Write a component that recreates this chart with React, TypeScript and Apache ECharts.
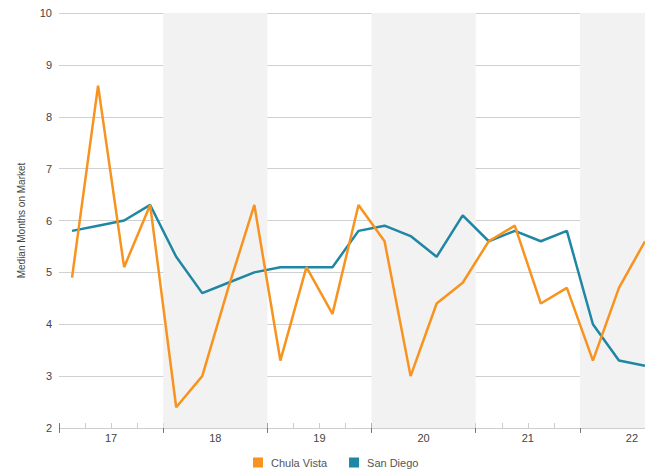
import React, { useEffect, useRef } from "react";
import * as echarts from "echarts";

const quarters: number[] = [
  2017.125, 2017.375, 2017.625, 2017.875,
  2018.125, 2018.375, 2018.625, 2018.875,
  2019.125, 2019.375, 2019.625, 2019.875,
  2020.125, 2020.375, 2020.625, 2020.875,
  2021.125, 2021.375, 2021.625, 2021.875,
  2022.125, 2022.375, 2022.625,
];
const chulaVista: number[] = [4.9, 8.6, 5.1, 6.3, 2.4, 3.0, 4.7, 6.3, 3.3, 5.1, 4.2, 6.3, 5.6, 3.0, 4.4, 4.8, 5.6, 5.9, 4.4, 4.7, 3.3, 4.7, 5.6];
const sanDiego: number[] = [5.8, 5.9, 6.0, 6.3, 5.3, 4.6, 4.8, 5.0, 5.1, 5.1, 5.1, 5.8, 5.9, 5.7, 5.3, 6.1, 5.6, 5.8, 5.6, 5.8, 4.0, 3.3, 3.2];
const shadedYears: number[][] = [[2018, 2019], [2020, 2021], [2022, 2022.625]];
const seriesNames = ["Chula Vista", "San Diego"];
const yAxisName = "Median Months on Market";

const X_MIN = 2017;
const X_MAX = 2022.625;
const FONT = "Liberation Sans, Arial, sans-serif";
const LEGEND_ICON = "path://M0 0H10V10H0Z M12.99 0H13V0.01H12.99Z";

export default function App() {
  const ref = useRef<HTMLDivElement>(null);
  useEffect(() => {
    if (!ref.current) return;
    const chart = echarts.init(ref.current, undefined, { renderer: "svg" });
    const baseX = {
      type: "value" as const,
      min: X_MIN,
      max: X_MAX,
      position: "bottom" as const,
      splitLine: { show: false },
    };
    chart.setOption({
      animation: false,
      textStyle: { fontFamily: FONT },
      grid: { left: 59, right: 0, top: 13, bottom: 46, containLabel: false, outerBoundsMode: "none" },
      legend: {
        bottom: 1,
        left: 248,
        itemWidth: 13,
        itemHeight: 10,
        itemGap: 22,
        icon: LEGEND_ICON,
        textStyle: { color: "#555", fontSize: 11, fontFamily: FONT },
        data: seriesNames,
      },
      xAxis: [
        {
          ...baseX,
          interval: 0.25,
          axisLine: { show: true, lineStyle: { color: "#ccc", width: 1 } },
          axisTick: { show: true, inside: true, length: 5, lineStyle: { color: "#ccc" } },
          axisLabel: { show: false },
        },
        {
          ...baseX,
          interval: 1,
          axisLine: { show: false },
          axisTick: { show: true, inside: true, length: 5, lineStyle: { color: "#777" } },
          axisLabel: { show: false },
        },
        {
          ...baseX,
          interval: 1,
          axisLine: { show: false },
          axisTick: { show: true, inside: false, length: 5, lineStyle: { color: "#777" } },
          axisLabel: { show: false },
        },
        {
          ...baseX,
          interval: 0.5,
          axisLine: { show: false },
          axisTick: { show: false },
          axisLabel: {
            show: true,
            color: "#444",
            fontSize: 11,
            margin: 4,
            showMaxLabel: false,
            showMinLabel: false,
            formatter: (v: number) => {
              const frac = v - Math.floor(v);
              if (Math.abs(frac - 0.5) < 1e-6) return String(Math.floor(v) % 100);
              return "";
            },
          },
        },
      ],
      yAxis: {
        type: "value",
        min: 2,
        max: 10,
        interval: 1,
        name: yAxisName,
        nameLocation: "middle",
        nameGap: 33,
        nameTextStyle: { color: "#444", fontSize: 10, fontFamily: FONT },
        axisLine: { show: false },
        axisTick: { show: false },
        axisLabel: { color: "#444", fontSize: 11, margin: 7 },
        splitLine: { lineStyle: { color: "#d0d0d0", width: 1 } },
      },
      series: [
        {
          name: seriesNames[0],
          type: "line",
          xAxisIndex: 0,
          data: quarters.map((q, i) => [q, chulaVista[i]]),
          symbol: "none",
          lineStyle: { color: "#f7931e", width: 2.5 },
          itemStyle: { color: "#f7931e" },
          markArea: {
            silent: true,
            itemStyle: { color: "#f2f2f2" },
            data: shadedYears.map(([a, b]) => [{ xAxis: a }, { xAxis: b }]),
          },
          z: 3,
        },
        {
          name: seriesNames[1],
          type: "line",
          xAxisIndex: 0,
          data: quarters.map((q, i) => [q, sanDiego[i]]),
          symbol: "none",
          lineStyle: { color: "#1f86a4", width: 2.5 },
          itemStyle: { color: "#1f86a4" },
          z: 2,
        },
      ],
    });
    return () => chart.dispose();
  }, []);
  return (
    <div
      ref={ref}
      style={{ position: "fixed", left: 0, top: 0, width: 645, height: 474, background: "#fff" }}
    />
  );
}
